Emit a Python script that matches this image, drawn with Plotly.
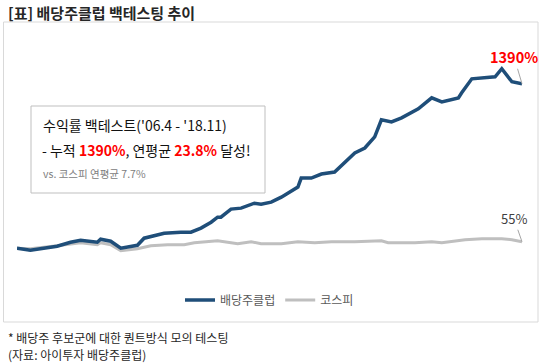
import plotly.graph_objects as go

# ---- data ----
club_dates = ["2006-04", "2006-08", "2007-04", "2007-08", "2007-11", "2008-04", "2008-05", "2008-08",
              "2008-11", "2009-04", "2009-06", "2009-12", "2010-05", "2010-08", "2010-11", "2011-02",
              "2011-04", "2011-05", "2011-08", "2011-11", "2012-03", "2012-05", "2012-08", "2012-11",
              "2013-04", "2013-05", "2013-08", "2013-11", "2014-03", "2014-06", "2014-09", "2014-12",
              "2015-03", "2015-05", "2015-08", "2015-11", "2016-04", "2016-08", "2016-11", "2017-04",
              "2017-05", "2017-08", "2018-03", "2018-05", "2018-08", "2018-11"]
club_values = [0, -17, 17, 51, 68, 51, 76, 59,
               0, 25, 85, 127, 136, 136, 170, 220,
               263, 263, 331, 339, 381, 373, 390, 432,
               517, 593, 593, 627, 644, 720, 805, 847,
               941, 1085, 1068, 1102, 1178, 1271, 1237, 1271,
               1314, 1432, 1449, 1517, 1407, 1390]

kospi_dates = ["2006-04", "2006-08", "2007-04", "2007-11", "2008-04", "2008-05", "2008-08", "2008-11",
               "2009-04", "2009-08", "2010-01", "2010-06", "2010-09", "2011-04", "2011-10", "2012-02",
               "2012-05", "2012-11", "2013-04", "2013-09", "2014-02", "2014-09", "2015-05", "2015-07",
               "2016-03", "2016-08", "2016-11", "2017-06", "2017-11", "2018-05", "2018-08", "2018-11"]
kospi_values = [0, -4, 21, 46, 30, 46, 30, -21,
                -4, 21, 30, 30, 46, 63, 38, 55,
                38, 38, 55, 46, 55, 55, 63, 46,
                46, 55, 46, 72, 80, 80, 72, 55]

series_names = ["배당주클럽", "코스피"]
title_text = "[표] 배당주클럽 백테스팅 추이"
note_lines = ["* 배당주 후보군에 대한 퀀트방식 모의 테스팅", "(자료: 아이투자 배당주클럽)"]

# ---- layout geometry (pixels) ----
W, H = 540, 364
L, R, T, B = 17, 18, 53, 98
PW, PH = W - L - R, H - T - B


def px(x):
    return (x - L) / PW


def py(y):
    return (H - B - y) / PH


FONT = "Malgun Gothic, Noto Sans CJK KR, sans-serif"

fig = go.Figure()
fig.add_trace(go.Scatter(x=kospi_dates, y=kospi_values, mode="lines", name=series_names[1],
                         line=dict(color="#bfbfbf", width=3)))
fig.add_trace(go.Scatter(x=club_dates, y=club_values, mode="lines", name=series_names[0],
                         line=dict(color="#1f4e79", width=3.5)))

shapes = [
    # outer chart border
    dict(type="rect", xref="paper", yref="paper", x0=px(3.5), x1=px(538), y0=py(322), y1=py(22),
         line=dict(color="#d9d9d9", width=1), layer="below"),
    # text box
    dict(type="rect", xref="paper", yref="paper", x0=px(31), x1=px(265), y0=py(193), y1=py(106),
         line=dict(color="#bfbfbf", width=1), fillcolor="white", layer="above"),
]

annotations = [
    dict(text="<b>" + title_text + "</b>", xref="paper", yref="paper", x=px(6), y=py(13),
         xanchor="left", yanchor="middle", showarrow=False,
         font=dict(size=15, color="#262626", family=FONT)),
    dict(text=note_lines[0], xref="paper", yref="paper", x=px(6), y=py(337),
         xanchor="left", yanchor="middle", showarrow=False,
         font=dict(size=12, color="#262626", family=FONT)),
    dict(text=note_lines[1], xref="paper", yref="paper", x=px(6), y=py(354),
         xanchor="left", yanchor="middle", showarrow=False,
         font=dict(size=12, color="#262626", family=FONT)),
    dict(text="수익률 백테스트('06.4 - '18.11)", xref="paper", yref="paper", x=px(41), y=py(125),
         xanchor="left", yanchor="middle", showarrow=False,
         font=dict(size=14, color="#111111", family=FONT)),
    dict(text="- 누적 <b><span style='color:#ff0000'>1390%</span></b>, 연평균 "
              "<b><span style='color:#ff0000'>23.8%</span></b> 달성!",
         xref="paper", yref="paper", x=px(40), y=py(150),
         xanchor="left", yanchor="middle", showarrow=False,
         font=dict(size=14, color="#111111", family=FONT)),
    dict(text="vs. 코스피 연평균 7.7%", xref="paper", yref="paper", x=px(41), y=py(173),
         xanchor="left", yanchor="middle", showarrow=False,
         font=dict(size=10.5, color="#808080", family=FONT)),
    # end labels
    dict(text="<b>1390%</b>", x=club_dates[-1], y=club_values[-1], xref="x", yref="y",
         showarrow=True, arrowhead=0, arrowwidth=1, arrowcolor="#a6a6a6", ax=-8, ay=-27,
         font=dict(size=14.5, color="#ff0000", family=FONT)),
    dict(text="55%", x=kospi_dates[-1], y=kospi_values[-1], xref="x", yref="y",
         showarrow=True, arrowhead=0, arrowwidth=1, arrowcolor="#a6a6a6", ax=-8, ay=-23,
         font=dict(size=13, color="#404040", family=FONT)),
]

fig.update_layout(
    width=W, height=H,
    margin=dict(l=L, r=R, t=T, b=B),
    paper_bgcolor="white", plot_bgcolor="white",
    font=dict(family=FONT, color="#595959", size=12),
    xaxis=dict(visible=False, range=["2006-04", "2018-11"]),
    yaxis=dict(visible=False, range=[-150, 1650]),
    showlegend=True,
    legend=dict(orientation="h", x=0.5, xanchor="center", y=py(300), yanchor="middle",
                font=dict(size=12, color="#595959", family=FONT), traceorder="reversed",
                itemwidth=30),
    shapes=shapes,
    annotations=annotations,
)

fig.write_html("out.html", config={"displayModeBar": False},
               post_script="document.body.style.margin='0';document.body.style.overflow='hidden';")
